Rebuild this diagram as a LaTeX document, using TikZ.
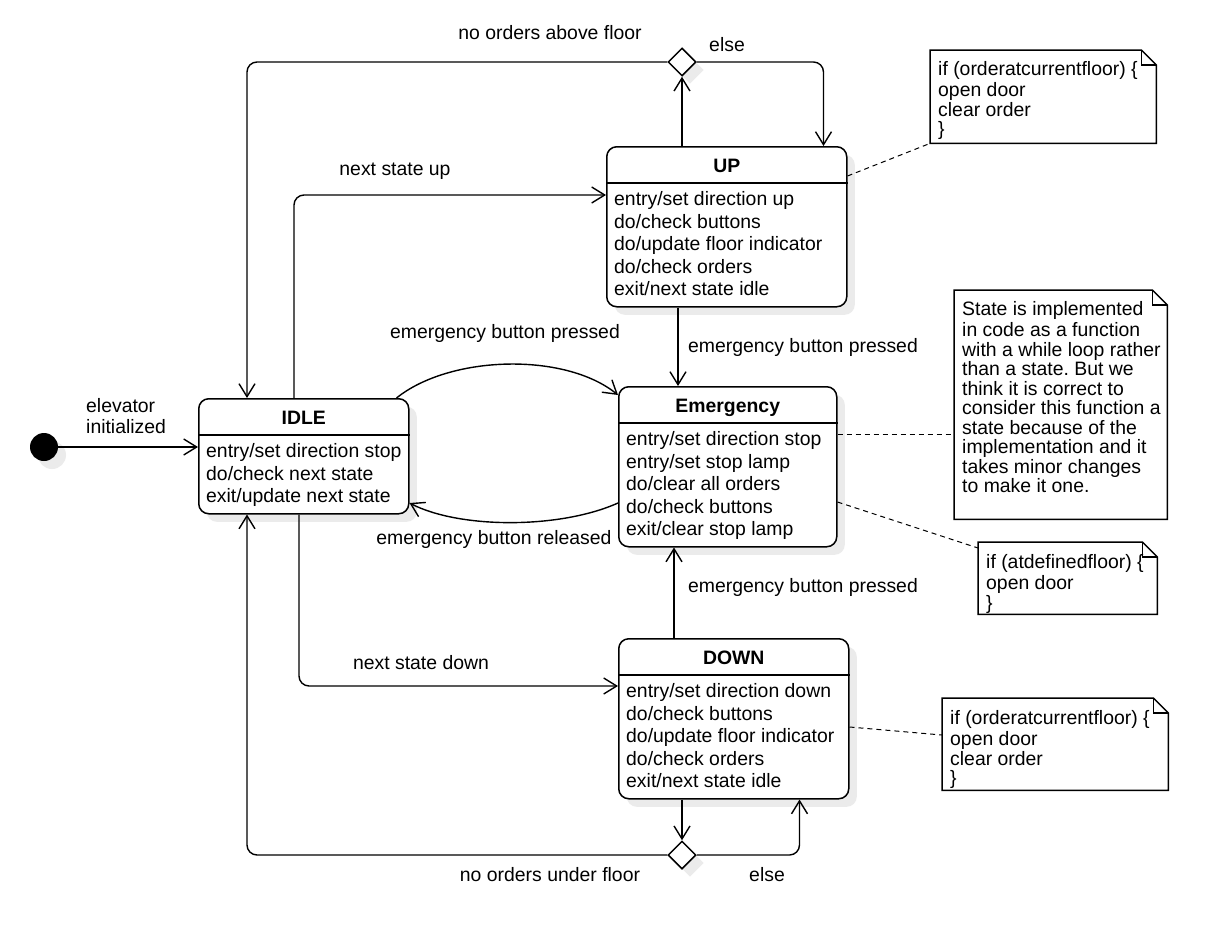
\documentclass[tikz,border=0pt]{standalone}
\usepackage{fontspec}
\setmainfont{Liberation Sans}
\usetikzlibrary{arrows.meta,calc,shapes.geometric,shadows}
\frenchspacing

\tikzset{
  shd/.style={drop shadow={shadow xshift=8pt, shadow yshift=-8pt, fill=black!8, opacity=1}},
  stbox/.style={draw, line width=1.5pt, rounded corners=10pt, fill=white,
    anchor=north west, inner sep=0pt, shd},
  ttl/.style={font=\bfseries\fontsize{19.4}{22.5}\selectfont, anchor=base, inner sep=0pt},
  body/.style={font=\fontsize{19.4}{22.5}\selectfont, anchor=north west, inner sep=0pt, align=left},
  lbl/.style={font=\fontsize{19.4}{22.5}\selectfont, inner sep=0pt},
  notebox/.style={anchor=north west, inner sep=0pt},
  notetxt/.style={font=\fontsize{19.4}{19.5}\selectfont, anchor=north west, inner sep=0pt, align=left},
  noteline/.style={line width=1.5pt, line join=miter},
  choice/.style={diamond, draw, line width=1.5pt, fill=white, minimum width=28pt,
    minimum height=28pt, inner sep=0pt, aspect=1, shd},
  initial/.style={circle, fill=black, minimum size=28pt, inner sep=0pt, shd},
  arr/.style={line width=1.4pt, -{Straight Barb[length=13pt,width=16pt]}},
  orth/.style={arr, rounded corners=10pt},
  dsh/.style={line width=1pt, dash pattern=on 5pt off 4pt},
  divider/.style={line width=1.5pt},
}

\begin{document}
\begin{tikzpicture}[x=1pt,y=-1pt]
\fill[white] (0,0) rectangle (1215,945);
\useasboundingbox (0,0) rectangle (1215,945);

% initial pseudo-state
\node[initial] (init) at (44,447) {};

% states
\node[stbox, minimum width=210pt, minimum height=115pt] (idle) at (198,398) {};
\node[stbox, minimum width=240pt, minimum height=160pt] (up) at (606,146) {};
\node[stbox, minimum width=218pt, minimum height=160pt] (emerg) at (618,386) {};
\node[stbox, minimum width=230pt, minimum height=160pt] (down) at (618,638) {};

\foreach \s in {idle,up,emerg,down}{
  \draw[divider] ($(\s.north west)+(0,37)$) -- ($(\s.north east)+(0,37)$);
}

\node[ttl] (idle-t) at ($(idle.north)+(0,26)$) {IDLE};
\node[body] (idle-b) at ($(idle.north west)+(8,44)$)
  {\strut entry/set direction stop\\do/check next state\\exit/update next state};

\node[ttl] (up-t) at ($(up.north)+(0,26)$) {UP};
\node[body] (up-b) at ($(up.north west)+(8,44)$)
  {\strut entry/set direction up\\do/check buttons\\do/update floor indicator\\do/check orders\\exit/next state idle};

\node[ttl] (emerg-t) at ($(emerg.north)+(0,26)$) {Emergency};
\node[body] (emerg-b) at ($(emerg.north west)+(8,44)$)
  {\strut entry/set direction stop\\entry/set stop lamp\\do/clear all orders\\do/check buttons\\exit/clear stop lamp};

\node[ttl] (down-t) at ($(down.north)+(0,26)$) {DOWN};
\node[body] (down-b) at ($(down.north west)+(8,44)$)
  {\strut entry/set direction down\\do/check buttons\\do/update floor indicator\\do/check orders\\exit/next state idle};

% choice points
\node[choice] (dtop) at (682,62) {};
\node[choice] (dbot) at (682,855) {};

% notes
\node[notebox, minimum width=226pt, minimum height=93pt] (n1) at (930,50) {};
\node[notebox, minimum width=213pt, minimum height=229pt] (n2) at (954,290) {};
\node[notebox, minimum width=179pt, minimum height=72pt] (n3) at (978,542) {};
\node[notebox, minimum width=226pt, minimum height=92pt] (n4) at (942,698) {};
\foreach \n in {n1,n2,n3,n4}{
  \draw[noteline] (\n.north west) -- ($(\n.north east)+(-15,0)$) -- ($(\n.north east)+(0,15)$)
    -- (\n.south east) -- (\n.south west) -- cycle;
  \draw[noteline] ($(\n.north east)+(-15,0)$) -- ($(\n.north east)+(-15,15)$) -- ($(\n.north east)+(0,15)$);
}
\node[notetxt] (n1-t) at ($(n1.north west)+(8,11.4)$)
  {\strut if (orderatcurrentfloor) \{\\open door\\clear order\\\}};
\node[notetxt] (n2-t) at ($(n2.north west)+(8,11.4)$)
  {\strut State is implemented\\in code as a function\\with a while loop rather\\than a state. But we\\think it is correct to\\consider this function a\\state because of the\\implementation and it\\takes minor changes\\to make it one.};
\node[notetxt] (n3-t) at ($(n3.north west)+(8,12.4)$)
  {\strut if (atdefinedfloor) \{\\open door\\\}};
\node[notetxt] (n4-t) at ($(n4.north west)+(8,12.4)$)
  {\strut if (orderatcurrentfloor) \{\\open door\\clear order\\\}};

% transitions
\draw[arr] (init.east) -- (init.east -| idle.west);
\draw[arr] (up.north -| dtop) -- (dtop.south);
\draw[orth] (dtop.west) -| ($(idle.north west)+(49,0)$);
\draw[orth] (dtop.east) -| ($(up.north east)+(-24,0)$);
\draw[orth] ($(idle.north west)+(96,0)$) |- ($(up.north west)+(0,49)$);
\draw[arr] ($(idle.north east)+(-13,0)$) .. controls (450,355) and (565,352) .. ($(emerg.north west)+(0,9)$);
\draw[arr] ($(emerg.north west)+(0,117)$) .. controls (560,529) and (460,529) .. ($(idle.north east)+(0,105)$);
\draw[arr] ($(up.south west)+(72,0)$) -- ($(emerg.north west)+(60,0)$);
\draw[arr] ($(down.north west)+(56,0)$) -- ($(emerg.south west)+(56,0)$);
\draw[orth] ($(idle.south west)+(101,0)$) |- ($(down.north west)+(0,48)$);
\draw[arr] (down.south -| dbot) -- (dbot.north);
\draw[orth] (dbot.west) -| ($(idle.south west)+(49,0)$);
\draw[orth] (dbot.east) -| ($(down.south east)+(-50,0)$);

% note anchors
\coordinate (em-n2) at ($(emerg.north east)+(0,48.5)$);
\draw[dsh] ($(up.north east)+(0,30)$) -- (n1.south west);
\draw[dsh] (em-n2) -- (em-n2 -| n2.west);
\draw[dsh] ($(emerg.north east)+(0,116)$) -- ($(n3.north west)+(0,6)$);
\draw[dsh] ($(down.north east)+(0,89)$) -- ($(n4.north west)+(0,37)$);

% transition labels
\node[lbl, align=left, anchor=north west, font=\fontsize{19.4}{19}\selectfont] (l-init) at (86,398.7) {\strut elevator\\initialized};
\node[lbl] (l-above) at (550,33) {no orders above floor};
\node[lbl] (l-else1) at (727,45) {else};
\node[lbl] (l-nup) at (395,171) {next state up};
\node[lbl] (l-ep1) at (505,333) {emergency button pressed};
\node[lbl] (l-ep2) at (803,347) {emergency button pressed};
\node[lbl] (l-er) at (494,539) {emergency button released};
\node[lbl] (l-ep3) at (803,587) {emergency button pressed};
\node[lbl] (l-ndown) at (421,663) {next state down};
\node[lbl] (l-under) at (550,875) {no orders under floor};
\node[lbl] (l-else2) at (767,875) {else};
\end{tikzpicture}
\end{document}
